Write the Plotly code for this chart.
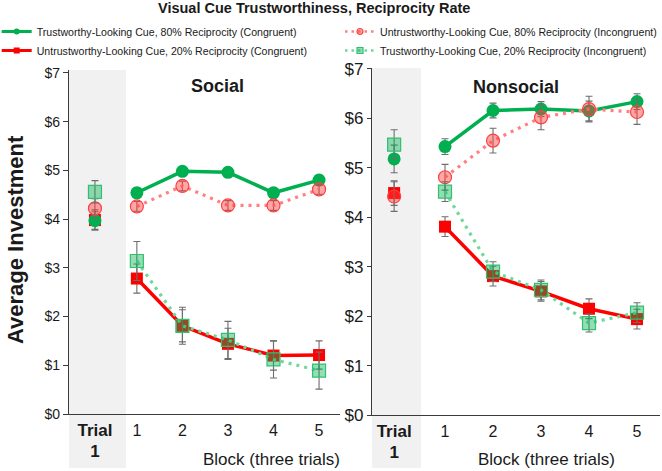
import plotly.graph_objects as go

W, H = 662, 471

# ---------------- data ----------------
categories = ["Trial 1", "1", "2", "3", "4", "5"]
series_names = [
    "Trustworthy-Looking Cue, 80% Reciprocity (Congruent)",
    "Untrustworthy-Looking Cue, 80% Reciprocity (Incongruent)",
    "Untrustworthy-Looking Cue, 20% Reciprocity (Congruent)",
    "Trustworthy-Looking Cue, 20% Reciprocity (Incongruent)",
]
# Social panel: [Trial 1, Block1..5]
social_trust80 = [3.97, 4.54, 4.98, 4.96, 4.54, 4.80]
social_trust80_se = [0.18, 0.10, 0.10, 0.10, 0.10, 0.10]
social_untrust80 = [4.22, 4.26, 4.68, 4.28, 4.28, 4.61]
social_untrust80_se = [0.20, 0.10, 0.10, 0.10, 0.10, 0.10]
social_untrust20 = [3.98, 2.78, 1.81, 1.44, 1.20, 1.21]
social_untrust20_se = [0.21, 0.30, 0.33, 0.32, 0.30, 0.29]
social_trust20 = [4.56, 3.14, 1.81, 1.52, 1.12, 0.89]
social_trust20_se = [0.23, 0.40, 0.38, 0.38, 0.38, 0.38]
# Nonsocial panel
nonsocial_trust80 = [5.18, 5.43, 6.16, 6.19, 6.15, 6.34]
nonsocial_trust80_se = [0.28, 0.16, 0.15, 0.15, 0.20, 0.16]
nonsocial_untrust80 = [4.42, 4.81, 5.55, 6.02, 6.19, 6.13]
nonsocial_untrust80_se = [0.30, 0.26, 0.25, 0.25, 0.26, 0.25]
nonsocial_untrust20 = [4.49, 3.81, 2.81, 2.50, 2.15, 1.94]
nonsocial_untrust20_se = [0.25, 0.20, 0.20, 0.20, 0.20, 0.20]
nonsocial_trust20 = [5.47, 4.52, 2.90, 2.53, 1.86, 2.07]
nonsocial_trust20_se = [0.30, 0.20, 0.20, 0.20, 0.18, 0.20]
y_ticks = [0, 1, 2, 3, 4, 5, 6, 7]
y_ticktext = ["$0", "$1", "$2", "$3", "$4", "$5", "$6", "$7"]

# ---------------- styles ----------------
FONT = "Arial, Liberation Sans, Arimo, sans-serif"
GREEN = "#00b050"
RED = "#ff0000"
PALE_RED_LINE = "#ff8080"
PALE_GREEN_LINE = "#6fd89c"
ERR = "#6e6e6e"

styles = [
    dict(line=dict(color=GREEN, width=3.5), marker=dict(symbol="circle", size=13, color=GREEN)),
    dict(line=dict(color=PALE_RED_LINE, width=3.2, dash="3px,5px"),
         marker=dict(symbol="circle", size=13, color="rgba(255,60,60,0.45)", line=dict(color="#ff4040", width=1.2))),
    dict(line=dict(color=RED, width=3.5), marker=dict(symbol="square", size=12, color=RED)),
    dict(line=dict(color=PALE_GREEN_LINE, width=3.2, dash="3px,5px"),
         marker=dict(symbol="square", size=13, color="rgba(0,176,80,0.42)", line=dict(color="#30c070", width=1.2))),
]
draw_order = [2, 0, 1, 3]
legend_of = ["legend", "legend2", "legend", "legend2"]

panels = [
    dict(xa="x", ya="y", trial_x=0.08,
         vals=[social_trust80, social_untrust80, social_untrust20, social_trust20],
         ses=[social_trust80_se, social_untrust80_se, social_untrust20_se, social_trust20_se]),
    dict(xa="x2", ya="y2", trial_x=-0.06,
         vals=[nonsocial_trust80, nonsocial_untrust80, nonsocial_untrust20, nonsocial_trust20],
         ses=[nonsocial_trust80_se, nonsocial_untrust80_se, nonsocial_untrust20_se, nonsocial_trust20_se]),
]

fig = go.Figure()

for p in panels:
    xpos = [p["trial_x"]] + [float(c) for c in categories[1:]]
    for i in draw_order:
        st = styles[i]
        v, se = p["vals"][i], p["ses"][i]
        eb = lambda arr: dict(type="data", array=arr, color=ERR, thickness=1.1, width=3.5)
        # trial 1 point (not connected)
        fig.add_trace(go.Scatter(x=xpos[:1], y=v[:1], mode="markers", marker=st["marker"],
                                 error_y=eb(se[:1]), xaxis=p["xa"], yaxis=p["ya"],
                                 showlegend=False, hoverinfo="skip"))
        # blocks
        fig.add_trace(go.Scatter(x=xpos[1:], y=v[1:], mode="lines+markers", line=st["line"],
                                 marker=st["marker"], error_y=eb(se[1:]),
                                 xaxis=p["xa"], yaxis=p["ya"], showlegend=False))

# legend keys (no data points)
for rank, i in enumerate([0, 1, 2, 3]):
    st = styles[i]
    mk = dict(st["marker"])
    mk["size"] = 6
    ln = dict(st["line"])
    ln["width"] = 3 if i in (0, 2) else 2.5
    if i in (1, 3):
        ln["dash"] = "2.5px,4px"
    fig.add_trace(go.Scatter(x=[None], y=[None], mode="lines+markers", name=series_names[i],
                             line=ln, marker=mk, legendrank=rank + 1, showlegend=True,
                             legend=legend_of[i], xaxis="x", yaxis="y"))

def px_x(px):
    return px / W

def px_y(py):
    return 1 - py / H

axis_common = dict(showgrid=False, zeroline=False, showline=True, linecolor="#3a3a3a", linewidth=1.2)
legend_common = dict(orientation="v", xanchor="left", yanchor="top", font=dict(size=10.6, family=FONT),
                     bgcolor="rgba(0,0,0,0)", itemwidth=30, tracegroupgap=0, traceorder="normal")

fig.update_layout(
    width=W, height=H,
    margin=dict(l=0, r=0, t=0, b=0, autoexpand=False),
    paper_bgcolor="white", plot_bgcolor="white",
    font=dict(family=FONT, color="#1a1a1a"),
    showlegend=True,
    legend=dict(x=-0.005, y=px_y(17), **legend_common),
    legend2=dict(x=px_x(340), y=px_y(17), **legend_common),
    xaxis=dict(domain=[px_x(69), px_x(340)], range=[-0.49, 5.46], anchor="y",
               tickvals=[0.08, 1, 2, 3, 4, 5],
               ticktext=["<b><span style='font-size:17px'>Trial</span><br><span style='font-size:17px'>1</span></b>"]
               + categories[1:],
               ticks="", tickfont=dict(size=16), ticklabelstandoff=2, **axis_common),
    yaxis=dict(domain=[px_y(414), px_y(70)], range=[0, 7.06], anchor="x",
               tickvals=y_ticks, ticktext=y_ticktext, ticks="outside", ticklen=5, tickcolor="#3a3a3a",
               tickfont=dict(size=14), **axis_common),
    xaxis2=dict(domain=[px_x(372), px_x(660)], range=[-0.521, 5.479], anchor="y2",
                tickvals=[-0.06, 1, 2, 3, 4, 5],
                ticktext=["<b><span style='font-size:17px'>Trial</span><br><span style='font-size:17px'>1</span></b>"]
                + categories[1:],
                ticks="", tickfont=dict(size=16), ticklabelstandoff=2, **axis_common),
    yaxis2=dict(domain=[px_y(415), px_y(68)], range=[0, 7.02], anchor="x2",
                tickvals=y_ticks, ticktext=y_ticktext, ticks="outside", ticklen=4, tickcolor="#3a3a3a",
                tickfont=dict(size=17), ticklabelstandoff=0, **axis_common),
)

# Trial 1 shaded bands
fig.add_shape(type="rect", xref="x", yref="paper", x0=-0.49, x1=0.76, y0=px_y(468), y1=px_y(70),
              fillcolor="#f1f1f1", line=dict(width=0), layer="below")
fig.add_shape(type="rect", xref="x2", yref="paper", x0=-0.521, x1=0.5, y0=px_y(468), y1=px_y(68),
              fillcolor="#f1f1f1", line=dict(width=0), layer="below")

ann = [
    dict(text="<b>Visual Cue Trustworthiness, Reciprocity Rate</b>", x=px_x(314), y=px_y(8),
         font=dict(size=14.5)),
    dict(text="<b>Social</b>", x=px_x(218), y=px_y(86), font=dict(size=18)),
    dict(text="<b>Nonsocial</b>", x=px_x(516), y=px_y(87), font=dict(size=18)),
    dict(text="<b>Average Investment</b>", x=px_x(15), y=px_y(240), font=dict(size=22), textangle=-90),
    dict(text="Block (three trials)", x=px_x(271), y=px_y(459), font=dict(size=17)),
    dict(text="Block (three trials)", x=px_x(546), y=px_y(459), font=dict(size=17)),
]
for a in ann:
    fig.add_annotation(xref="paper", yref="paper", showarrow=False, xanchor="center", yanchor="middle",
                       **a)

fig.write_html("out.html")
